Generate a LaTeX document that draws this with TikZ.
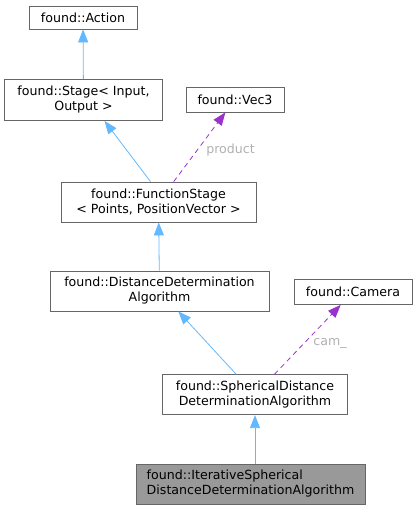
\documentclass[tikz,border=0pt]{standalone}
\usepackage{fontspec}
\setmainfont{DejaVu Sans}
\usetikzlibrary{arrows.meta, calc}
\definecolor{boxgray}{HTML}{666666}
\definecolor{edgeblue}{HTML}{63B8FF}
\definecolor{edgepurple}{HTML}{9A32CD}
\definecolor{labelgray}{HTML}{B0B0B0}
\definecolor{selfgray}{HTML}{999999}

\begin{document}
\begin{tikzpicture}[x=1pt, y=-1pt, font=\fontsize{12.6}{15}\selectfont,
  cls/.style={draw=boxgray, fill=white, line width=0.8pt, inner sep=0pt, align=center},
  inherit/.style={edgeblue, line width=0.8pt, -{Triangle[length=13pt, width=10pt]}},
  usage/.style={edgepurple, line width=0.8pt, dash pattern=on 5pt off 4pt,
    -{Triangle[length=13pt, width=10pt]}},
  elabel/.style={labelgray, inner sep=0pt}]
  \useasboundingbox (0,0) rectangle (417,509);

  % Base classes
  \node[cls, minimum width=108pt, minimum height=23pt] (action) at (83,17.5) {found::Action};
  \node[cls, minimum width=158pt, minimum height=41pt] (stage) at (83.5,100)
    {found::Stage\textless{} Input,\\Output \textgreater};
  \node[cls, minimum width=98pt, minimum height=25pt] (vec3) at (235,99.5) {found::Vec3};
  \node[cls, minimum width=195pt, minimum height=40pt] (fstage) at (158.5,202)
    {found::FunctionStage\\\textless{} Points, PositionVector \textgreater};
  \node[cls, minimum width=219pt, minimum height=40pt] (ddalgo) at (159.5,291)
    {found::DistanceDetermination\\Algorithm};
  \node[cls, minimum width=118pt, minimum height=25pt] (camera) at (353,292) {found::Camera};
  \node[cls, minimum width=185pt, minimum height=40pt] (sdalgo) at (255,394.7)
    {found::SphericalDistance\\DeterminationAlgorithm};

  % The class itself
  \node[cls, fill=selfgray, align=left, minimum width=229pt, minimum height=40pt] (isdalgo) at (250.5,484)
    {found::IterativeSpherical\\DistanceDeterminationAlgorithm};

  % Inheritance
  \draw[inherit] (stage) -- (action);
  \draw[inherit] ($(fstage.north)+(-8,0)$) -- ($(stage.south)+(21,0)$);
  \draw[inherit] (ddalgo) -- (fstage);
  \draw[inherit] (sdalgo) -- (ddalgo);
  \draw[inherit] (isdalgo.north -| sdalgo) -- (sdalgo);

  % Usage
  \draw[usage] (fstage) -- (vec3);
  \node[elabel] (lproduct) at (230.5,150) {product};
  \draw[usage] (sdalgo) -- (camera);
  \node[elabel] (lcam) at (330,343) {cam\_};
\end{tikzpicture}
\end{document}
